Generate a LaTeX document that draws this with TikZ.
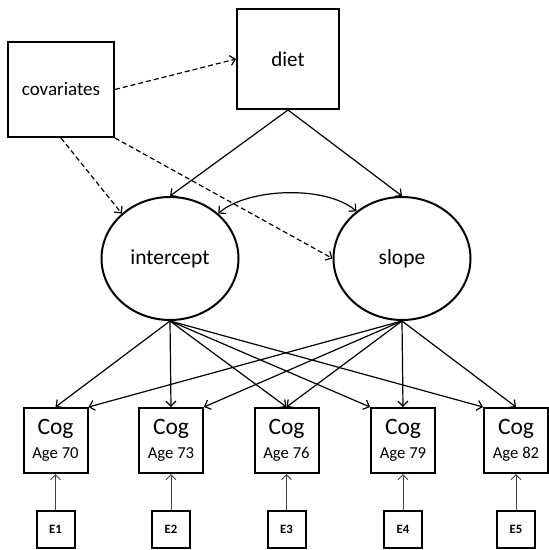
\documentclass[tikz,border=0pt]{standalone}
\usepackage{fontspec}
\setmainfont{Carlito}
\usetikzlibrary{shapes.geometric,arrows.meta}
\begin{document}
\begin{tikzpicture}[x=1pt,y=-1pt,
  box/.style={draw,line width=2pt,inner sep=0pt},
  lat/.style={draw,ellipse,line width=2pt,inner sep=0pt,minimum width=137pt,minimum height=123pt,font=\fontsize{21.5}{24}\selectfont},
  cogbox/.style={box,minimum width=64pt,minimum height=65pt,align=center,font=\fontsize{16.7}{24}\selectfont},
  errbox/.style={box,minimum width=38pt,minimum height=37pt,font=\bfseries\fontsize{12.7}{14}\selectfont},
  arr/.style={-{Straight Barb[length=5pt,width=10pt]},line width=1.2pt},
  biarr/.style={{Straight Barb[length=5pt,width=10pt]}-{Straight Barb[length=5pt,width=10pt]},line width=1.2pt},
  darr/.style={arr,dash pattern=on 5pt off 3pt},
  earr/.style={arr,line width=1pt,draw=black!75}]
\useasboundingbox (0,0) rectangle (549,550);
\node[box,minimum width=106pt,minimum height=95pt,font=\fontsize{19}{22}\selectfont] (cov) at (61,89.5) {covariates};
\node[box,minimum width=102pt,minimum height=100pt,font=\fontsize{21}{24}\selectfont] (diet) at (288,59) {diet};
\node[lat] (int) at (170,258.5) {intercept};
\node[lat] (slp) at (402,258.5) {slope};
\foreach \i/\x/\a in {1/55.5/70,2/171/73,3/286.5/76,4/403/79,5/516/82}{
  \node[cogbox] (c\i) at (\x,440.5) {{\fontsize{23.5}{24}\selectfont Cog}\\Age \a};
  \node[errbox] (e\i) at (\x,529.5) {E\i};
  \draw[earr] (e\i) -- (c\i);
}
\draw[darr] (cov.east) -- (diet.west);
\draw[darr] (cov.south) -- (int.137);
\draw[darr] (cov.south east) -- (slp.west);
\draw[arr] (diet.south) -- (int.north);
\draw[arr] (diet.south) -- (slp.north);
\draw[biarr] (int.43) .. controls +(30,-26) and +(-30,-26) .. (slp.134);
\draw[arr] (int.south) -- (c1.north);
\draw[arr] (int.south) -- (c2.north);
\draw[arr] (int.south) -- (c3.north);
\draw[arr] (int.south) -- (c4.north west);
\draw[arr] (int.south) -- (c5.north west);
\draw[arr] (slp.south) -- (c1.north east);
\draw[arr] (slp.south) -- (c2.north east);
\draw[arr] (slp.south) -- (c3.north);
\draw[arr] (slp.south) -- (c4.north);
\draw[arr] (slp.south) -- (c5.north);
\end{tikzpicture}
\end{document}
